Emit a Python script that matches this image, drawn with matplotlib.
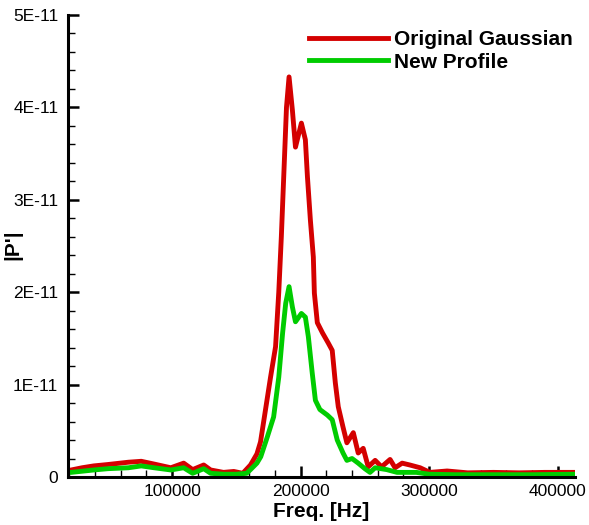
import matplotlib
matplotlib.use("Agg")
import matplotlib.pyplot as plt
from matplotlib.ticker import MultipleLocator, FuncFormatter

# Frequency [Hz] and |P'| (in units of 1e-12)
freq_orig = [19000, 21500, 30000, 39000, 50000, 66000, 76000, 86000, 99000, 109000,
             116000, 124600, 130000, 140000, 148000, 155000, 161000, 166000, 168800,
             172700, 176600, 180500, 183000, 185000, 187000, 189000, 191000, 193600,
             196000, 200600, 203700, 205300, 207600, 209900, 210700, 213000, 217000,
             221500, 224600, 227000, 229300, 233000, 236000, 241000, 244800, 248700,
             252600, 258000, 263000, 269600, 273500, 279000, 285000, 293000, 300600,
             314000, 330000, 350000, 370000, 390000, 413500]
p_orig = [0.7, 0.76, 1.0, 1.2, 1.35, 1.6, 1.7, 1.4, 1.0, 1.5,
          0.8, 1.3, 0.76, 0.5, 0.6, 0.4, 1.3, 2.5, 3.8,
          7.3, 10.8, 14.1, 20.0, 26.0, 33.0, 40.0, 43.3, 39.7,
          35.7, 38.3, 36.5, 32.5, 27.8, 23.8, 19.9, 16.7, 15.6,
          14.5, 13.7, 10.2, 7.6, 5.4, 3.7, 4.8, 2.6, 3.1,
          1.1, 1.8, 1.1, 1.9, 1.0, 1.5, 1.3, 1.0, 0.5,
          0.65, 0.45, 0.5, 0.45, 0.5, 0.5]

freq_new = [19000, 21500, 39000, 50000, 66000, 76000, 86000, 99000, 109000, 116000,
            124600, 130000, 140000, 150000, 158000, 161000, 166000, 169000, 174000,
            179000, 183000, 186000, 188400, 191000, 193600, 196000, 200600, 203700,
            206000, 209000, 211500, 215000, 220800, 224600, 228500, 233000, 236000,
            240000, 244800, 250000, 254000, 258000, 267000, 275000, 290000, 300000,
            320000, 350000, 380000, 413500]
p_new = [0.5, 0.5, 0.76, 0.9, 1.0, 1.2, 1.0, 0.76, 1.0, 0.4,
         0.9, 0.4, 0.3, 0.3, 0.4, 0.8, 1.5, 2.2, 4.3,
         6.5, 10.8, 15.6, 18.8, 20.6, 18.4, 16.8, 17.7, 17.3,
         15.2, 11.3, 8.3, 7.3, 6.7, 6.2, 4.0, 2.6, 1.8,
         2.0, 1.5, 0.9, 0.5, 1.0, 0.8, 0.5, 0.5, 0.3,
         0.25, 0.25, 0.25, 0.3]

labels = ["Original Gaussian", "New Profile"]
colors = ["#d40000", "#00cc00"]

plt.rcParams['font.family'] = ['Liberation Sans', 'DejaVu Sans']

fig = plt.figure(figsize=(5.89, 5.25), dpi=100)
ax = fig.add_axes([68/589, 1-477/525, (575-68)/589, (477-15)/525])

ax.plot(freq_orig, [v*1e-12 for v in p_orig], color=colors[0], lw=3.5,
        label=labels[0], solid_joinstyle='round')
ax.plot(freq_new, [v*1e-12 for v in p_new], color=colors[1], lw=3.5,
        label=labels[1], solid_joinstyle='round')

ax.set_xlim(19000, 413500)
ax.set_ylim(0, 5e-11)

for s in ['top', 'right']:
    ax.spines[s].set_visible(False)
for s in ['left', 'bottom']:
    ax.spines[s].set_linewidth(2.2)

ax.xaxis.set_major_locator(MultipleLocator(100000))
ax.xaxis.set_minor_locator(MultipleLocator(20000))
ax.yaxis.set_major_locator(MultipleLocator(1e-11))
ax.yaxis.set_minor_locator(MultipleLocator(2e-12))

def yfmt(v, pos):
    n = int(round(v / 1e-11))
    return "0" if n == 0 else f"{n}E-11"
ax.yaxis.set_major_formatter(FuncFormatter(yfmt))
ax.xaxis.set_major_formatter(FuncFormatter(lambda v, p: f"{int(round(v))}"))

ax.tick_params(which='major', direction='in', length=8, width=1.8, labelsize=12.5)
ax.tick_params(axis='y', which='major', pad=7)
ax.tick_params(axis='x', which='major', pad=5)
ax.tick_params(which='minor', direction='in', length=5, width=1.0)

ax.set_xlabel("Freq. [Hz]", fontsize=15, fontweight='bold', labelpad=2)
ax.set_ylabel("|P'|", fontsize=15, fontweight='bold')
ax.yaxis.set_label_coords(-0.0907, 0.502)

leg = ax.legend(loc='upper left', bbox_to_anchor=(309/589, 1-30/525),
                bbox_transform=fig.transFigure, frameon=False,
                prop={'size': 15, 'weight': 'bold'}, handlelength=3.8,
                handletextpad=0.3, labelspacing=0.18, borderpad=0, borderaxespad=0)

fig.savefig("out.png", dpi=100)
